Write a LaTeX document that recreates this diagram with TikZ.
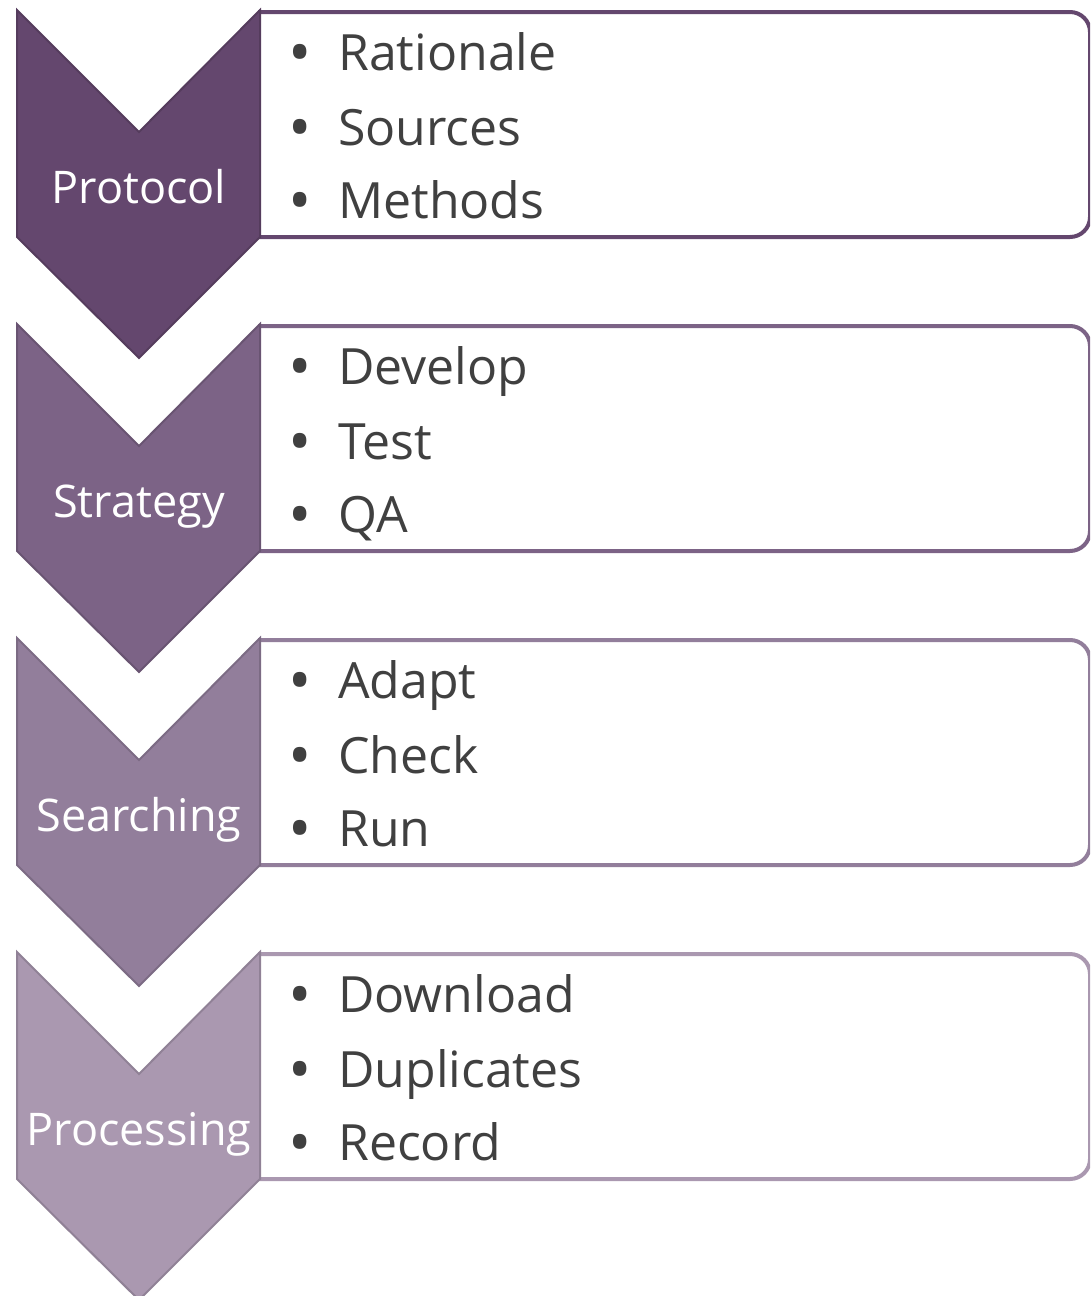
\documentclass[tikz,border=0pt]{standalone}
\usepackage{fontspec}
\setmainfont{Open Sans}
\definecolor{cA}{HTML}{64476E}
\definecolor{cB}{HTML}{7C6386}
\definecolor{cC}{HTML}{927E9B}
\definecolor{cD}{HTML}{AA98B0}
\definecolor{txt}{HTML}{404040}
\tikzset{
  chev/.style={line width=2pt, line join=miter},
  box/.style={line width=4pt, rounded corners=20pt, fill=white},
  lab/.style={text=white, font=\fontsize{45}{54}\selectfont, inner sep=0pt, anchor=base},
  item/.style={text=txt, font=\fontsize{50}{60}\selectfont, anchor=base west, inner sep=0pt},
  bul/.style={text=txt, font=\fontsize{62}{60}\selectfont, anchor=base, inner sep=0pt},
}
\begin{document}
\begin{tikzpicture}[x=1pt,y=-1pt]
\useasboundingbox (0,0) rectangle (1090,1296);
\begin{scope}
\clip (0,0) rectangle (1090,1296);
\foreach \i/\fc/\name/\a/\b/\c in {0/cA/Protocol/Rationale/Sources/Methods,1/cB/Strategy/Develop/Test/QA,2/cC/Searching/Adapt/Check/Run,3/cD/Processing/Download/Duplicates/Record}{
  \pgfmathsetmacro{\dy}{314*\i}
  \draw[box, draw=\fc] (258,12+\dy) -- (1090,12+\dy) -- (1090,237+\dy) -- (258,237+\dy);
  \draw[chev, fill=\fc, draw=\fc!85!black] (17,10+\dy) -- (139,132+\dy) -- (260,10+\dy) -- (260,237+\dy) -- (139,358+\dy) -- (17,237+\dy) -- cycle;
  \node[lab] (lab\i) at (139,203+\dy) {\name};
  \node[bul] (b1\i) at (300,74+\dy) {•};
  \node[bul] (b2\i) at (300,149+\dy) {•};
  \node[bul] (b3\i) at (300,222+\dy) {•};
  \node[item] (t1\i) at (338,70+\dy) {\a};
  \node[item] (t2\i) at (338,145+\dy) {\b};
  \node[item] (t3\i) at (338,218+\dy) {\c};
}
\end{scope}
\end{tikzpicture}
\end{document}
